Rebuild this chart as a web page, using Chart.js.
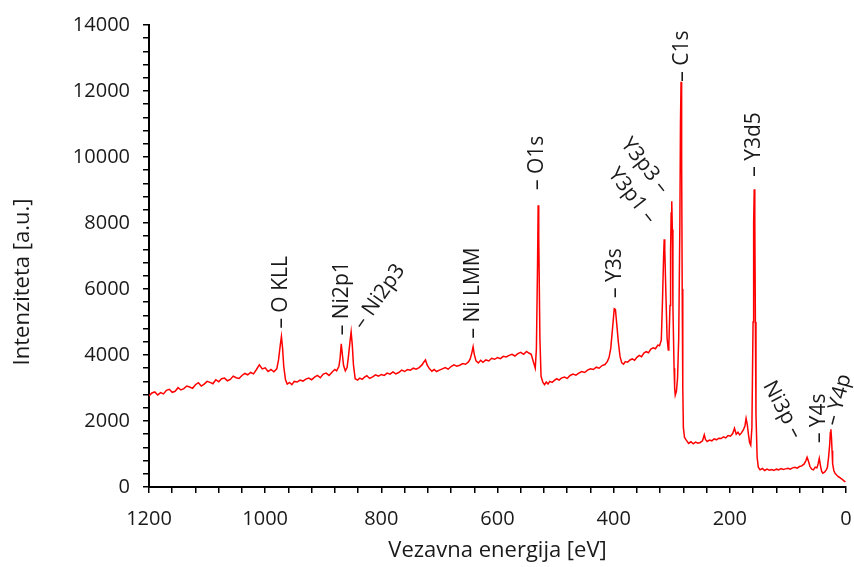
<!DOCTYPE html>
<html>
<head>
<meta charset="utf-8">
<script src="https://cdn.jsdelivr.net/npm/chart.js@4/dist/chart.umd.min.js"></script>
<style>
  html, body { margin: 0; padding: 0; background: #fff; }
  canvas { display: block; }
</style>
</head>
<body>
<canvas id="xpsChart" width="854" height="567"></canvas>
<script>
// Survey spectrum: binding energy (eV) and counts
const energy = [
  1200, 1195, 1190, 1185, 1180, 1175, 1170, 1165, 1160, 1155, 1150, 1145, 1140, 1135, 1130, 1125,
  1120, 1115, 1110, 1105, 1100, 1095, 1090, 1085, 1080, 1075, 1070, 1065, 1060, 1055, 1050, 1045,
  1040, 1035, 1030, 1025, 1020, 1015, 1010, 1005, 1000, 995, 990, 985, 980, 977, 974, 972,
  970, 968, 965, 962, 958, 954, 950, 945, 940, 935, 930, 925, 920, 915, 910, 905,
  900, 895, 890, 885, 880, 877, 873, 871, 869, 867, 865, 862, 859, 857, 854, 852,
  850, 848, 845, 841, 837, 833, 829, 825, 820, 815, 810, 805, 800, 795, 790, 785,
  780, 775, 770, 765, 760, 755, 750, 745, 740, 735, 730, 727, 724, 721, 717, 713,
  709, 705, 700, 695, 690, 685, 680, 675, 670, 665, 660, 655, 650, 647, 644, 642,
  640, 637, 633, 629, 625, 620, 615, 610, 605, 600, 595, 590, 585, 580, 575, 570,
  565, 560, 555, 550, 546, 542, 538, 535, 533, 531, 530, 529, 527, 525, 522, 519,
  516, 513, 510, 506, 502, 498, 494, 490, 485, 480, 475, 470, 465, 460, 455, 450,
  445, 440, 435, 430, 425, 420, 415, 411, 408, 405, 402, 399, 397, 395, 392, 389,
  386, 383, 380, 376, 372, 368, 364, 360, 356, 352, 348, 344, 340, 336, 332, 328,
  324, 321, 318, 316, 314, 313, 312, 310, 308, 306, 305, 303, 302, 301, 300, 299,
  298, 296, 295, 294, 292, 290, 288, 286, 285, 284, 283, 282, 281, 280, 278, 275,
  271, 267, 263, 259, 255, 251, 247, 244, 242, 239, 235, 231, 227, 223, 219, 215,
  211, 207, 203, 199, 195, 192, 189, 186, 183, 180, 177, 174, 172, 170, 168, 166,
  164, 162, 160, 159, 158, 157, 156, 155, 153, 151, 148, 144, 140, 136, 132, 128,
  124, 120, 116, 112, 108, 104, 100, 96, 92, 88, 84, 80, 76, 72, 69, 67,
  65, 62, 59, 56, 53, 50, 48, 46, 44, 42, 40, 37, 34, 32, 30, 28,
  27, 26, 25, 24, 23, 21, 19, 17, 15, 13, 11, 9, 7, 5, 3, 1
];
const intensity = [
  2760, 2850, 2880, 2790, 2860, 2820, 2930, 2960, 2870, 2900, 3010, 2940, 2980, 3060, 3030, 2990,
  3100, 3160, 3060, 3120, 3200, 3170, 3130, 3250, 3190, 3280, 3300, 3220, 3260, 3360, 3310, 3290,
  3380, 3440, 3400, 3470, 3430, 3560, 3700, 3580, 3610, 3500, 3560, 3490, 3580, 3850, 4300, 4560,
  4200, 3650, 3250, 3120, 3170, 3100, 3200, 3180, 3240, 3210, 3270, 3300, 3250, 3330, 3380, 3310,
  3420, 3450, 3380, 3480, 3560, 3520, 3660, 3900, 4340, 4000, 3680, 3520, 3620, 3900, 4400, 4700,
  4300, 3700, 3280, 3240, 3300, 3260, 3330, 3370, 3290, 3340, 3400, 3360, 3410, 3380, 3450, 3420,
  3490, 3430, 3470, 3540, 3500, 3560, 3540, 3600, 3570, 3620, 3700, 3780, 3850, 3690, 3580, 3510,
  3560, 3500, 3540, 3580, 3620, 3570, 3650, 3700, 3660, 3690, 3740, 3720, 3790, 3880, 4080, 4250,
  4020, 3820, 3760, 3840, 3780, 3850, 3820, 3900, 3870, 3920, 3890, 3960, 3940, 3990, 4020, 3970,
  4040, 4080, 4020, 4110, 4060, 4020, 3780, 3600, 4200, 6800, 8540, 7600, 4500, 3350, 3180, 3100,
  3180, 3120, 3200, 3170, 3230, 3280, 3240, 3300, 3330, 3290, 3380, 3420, 3390, 3450, 3500, 3470,
  3540, 3580, 3560, 3630, 3600, 3680, 3710, 3800, 3920, 4200, 4800, 5400, 5380, 5000, 4400, 3950,
  3760, 3720, 3800, 3780, 3850, 3880, 3840, 3930, 3990, 3950, 4060, 4100, 4070, 4180, 4220, 4190,
  4300, 4280, 4450, 5600, 7000, 7510, 7200, 5800, 4500, 4150, 4300, 5500, 7200, 8300, 8660, 7800,
  5500, 3600, 3000, 2780, 2900, 3300, 4500, 8000, 11000, 12280, 10000, 6000, 3000, 1800, 1500, 1420,
  1320, 1370, 1310, 1360, 1330, 1350, 1400, 1580, 1440, 1380, 1420, 1400, 1460, 1430, 1480, 1470,
  1520, 1490, 1560, 1540, 1620, 1780, 1600, 1660, 1580, 1640, 1720, 1850, 2080, 1900, 1600, 1350,
  1270, 1800, 5000, 8000, 9020, 8000, 5000, 2200, 900, 600, 520, 560, 500, 540, 510, 530,
  500, 540, 520, 560, 530, 550, 570, 540, 580, 600, 570, 620, 640, 700, 800, 900,
  800, 620, 540, 520, 600, 580, 700, 870, 650, 480, 420, 450, 520, 600, 900, 1300,
  1650, 1750, 1500, 1100, 700, 500, 420, 380, 340, 310, 290, 260, 240, 210, 180, 150
];

// Peak assignments: name, energy and intensity where the marker dash starts
const peakNames = ['O KLL', 'Ni2p1', 'Ni2p3', 'Ni LMM', 'O1s', 'Y3s', 'Y3p1', 'Y3p3', 'C1s', 'Y3d5', 'Ni3p', 'Y4s', 'Y4p'];
const peakEnergy = [972, 868, 840, 642, 532, 398, 334, 312, 282, 158, 84, 46, 25];
const peakLevel = [4800, 4600, 4850, 4500, 9000, 5730, 8050, 8960, 12280, 9400, 1510, 1330, 1870];

const xTicks = [0, 200, 400, 600, 800, 1000, 1200];
const yTicks = [0, 2000, 4000, 6000, 8000, 10000, 12000, 14000];

const points = energy.map((e, i) => ({ x: e, y: intensity[i] }));

// text rotation (degrees) per peak label
const labelAngle = [-90, -90, -55, -90, -90, -90, 52, 52, -90, -90, 62, -90, -75];

const FONT = "'Open Sans', 'Noto Sans', sans-serif";
const TEXT = '#1a1a1a';

const peakLabels = {
  id: 'peakLabels',
  afterDatasetsDraw(chart) {
    const { ctx, scales: { x, y } } = chart;
    ctx.save();
    ctx.fillStyle = TEXT;
    ctx.font = '21px ' + FONT;
    ctx.textBaseline = 'middle';
    peakNames.forEach((name, i) => {
      const a = labelAngle[i];
      ctx.save();
      ctx.translate(x.getPixelForValue(peakEnergy[i]), y.getPixelForValue(peakLevel[i]));
      ctx.rotate(a * Math.PI / 180);
      if (a < 0) {
        ctx.textAlign = 'left';
        ctx.fillText('\u2013 ' + name, 0, 0);
      } else {
        ctx.textAlign = 'right';
        ctx.fillText(name + ' \u2013', 0, 0);
      }
      ctx.restore();
    });
    ctx.restore();
  }
};

// y axis title, set a bit below the middle of the axis
const yTitle = {
  id: 'yTitle',
  afterDraw(chart) {
    const { ctx } = chart;
    ctx.save();
    ctx.translate(23, 282);
    ctx.rotate(-Math.PI / 2);
    ctx.font = '22px ' + FONT;
    ctx.fillStyle = TEXT;
    ctx.textAlign = 'center';
    ctx.textBaseline = 'middle';
    ctx.fillText('Intenziteta [a.u.]', 0, 0);
    ctx.restore();
  }
};

const ctx = document.getElementById('xpsChart').getContext('2d');
new Chart(ctx, {
  type: 'line',
  data: {
    datasets: [{
      data: points,
      borderColor: '#ff0000',
      borderWidth: 1.5,
      pointRadius: 0,
      tension: 0,
      fill: false
    }]
  },
  options: {
    responsive: false,
    animation: false,
    layout: { padding: { top: 23, right: 8, left: 0, bottom: 0 } },
    plugins: { legend: { display: false }, tooltip: { enabled: false } },
    scales: {
      x: {
        type: 'linear',
        reverse: true,
        min: 0,
        max: 1200,
        afterFit: s => { s.height = 80; s.paddingLeft = 0; s.paddingRight = 0; },
        border: { color: '#000', width: 2 },
        grid: { drawOnChartArea: false, tickLength: 6, color: '#000', lineWidth: 1.5 },
        ticks: {
          stepSize: 40,
          autoSkip: false,
          maxRotation: 0,
          padding: 14,
          color: TEXT,
          font: { family: FONT, size: 20 },
          callback: v => xTicks.includes(v) ? v : ''
        },
        title: {
          display: true,
          text: 'Vezavna energija [eV]',
          color: TEXT,
          font: { family: FONT, size: 22 },
          padding: { bottom: 3 }
        }
      },
      y: {
        min: 0,
        max: 14000,
        afterFit: s => { s.width = 149; },
        border: { color: '#000', width: 2 },
        grid: { drawOnChartArea: false, tickLength: 6, color: '#000', lineWidth: 1.5 },
        ticks: {
          stepSize: 400,
          autoSkip: false,
          padding: 13,
          color: TEXT,
          font: { family: FONT, size: 20 },
          callback: v => yTicks.includes(v) ? v : ''
        }
      }
    }
  },
  plugins: [peakLabels, yTitle]
});
</script>
</body>
</html>
